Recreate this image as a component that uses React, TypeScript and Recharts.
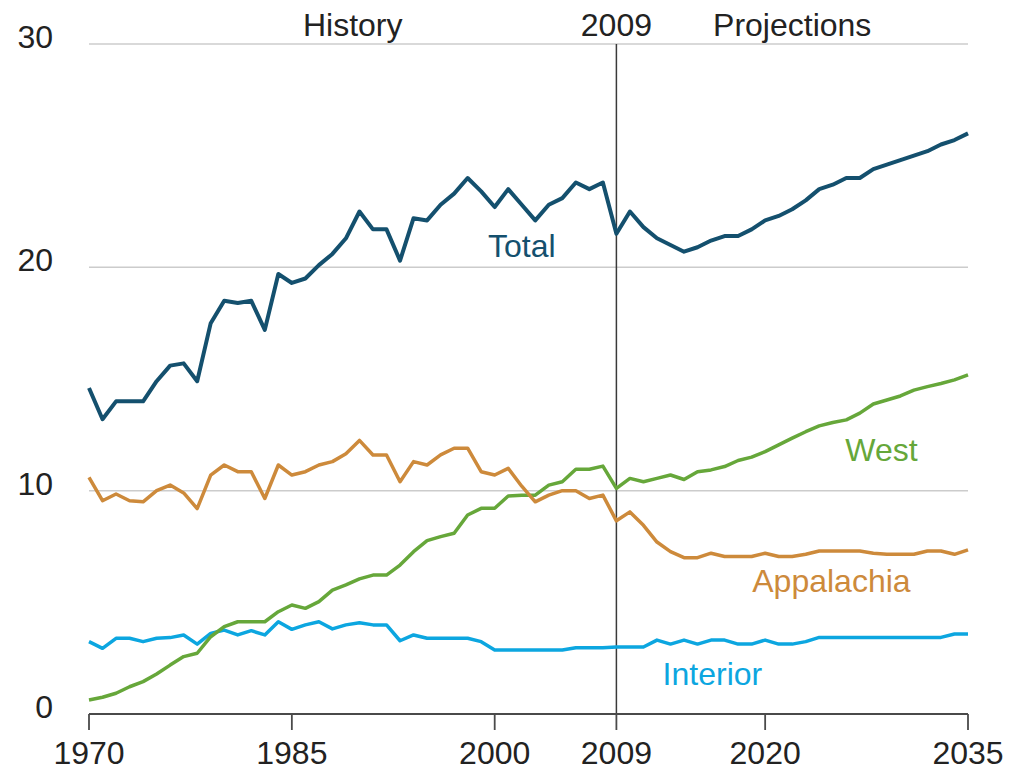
import React from 'react';
import {
  LineChart,
  Line,
  XAxis,
  YAxis,
  CartesianGrid,
  ReferenceLine,
  ReferenceArea,
  ReferenceDot,
} from 'recharts';

const YEARS = [
  1970, 1971, 1972, 1973, 1974, 1975, 1976, 1977, 1978, 1979,
  1980, 1981, 1982, 1983, 1984, 1985, 1986, 1987, 1988, 1989,
  1990, 1991, 1992, 1993, 1994, 1995, 1996, 1997, 1998, 1999,
  2000, 2001, 2002, 2003, 2004, 2005, 2006, 2007, 2008, 2009,
  2010, 2011, 2012, 2013, 2014, 2015, 2016, 2017, 2018, 2019,
  2020, 2021, 2022, 2023, 2024, 2025, 2026, 2027, 2028, 2029,
  2030, 2031, 2032, 2033, 2034, 2035,
];

const TOTAL = [
  14.6, 13.2, 14.0, 14.0, 14.0, 14.9, 15.6, 15.7, 14.9, 17.5,
  18.5, 18.4, 18.5, 17.2, 19.7, 19.3, 19.5, 20.1, 20.6, 21.3,
  22.5, 21.7, 21.7, 20.3, 22.2, 22.1, 22.8, 23.3, 24.0, 23.4,
  22.7, 23.5, 22.8, 22.1, 22.8, 23.1, 23.8, 23.5, 23.8, 21.5,
  22.5, 21.8, 21.3, 21.0, 20.7, 20.9, 21.2, 21.4, 21.4, 21.7,
  22.1, 22.3, 22.6, 23.0, 23.5, 23.7, 24.0, 24.0, 24.4, 24.6,
  24.8, 25.0, 25.2, 25.5, 25.7, 26.0,
];

const WEST = [
  0.63, 0.75, 0.93, 1.22, 1.45, 1.79, 2.19, 2.57, 2.72, 3.46,
  3.91, 4.13, 4.13, 4.13, 4.58, 4.88, 4.73, 5.03, 5.55, 5.78,
  6.05, 6.22, 6.22, 6.67, 7.27, 7.76, 7.94, 8.09, 8.91, 9.21,
  9.21, 9.76, 9.8, 9.8, 10.25, 10.4, 10.96, 10.96, 11.1, 10.1,
  10.55, 10.4, 10.55, 10.7, 10.5, 10.85, 10.93, 11.08, 11.35, 11.5,
  11.75, 12.05, 12.35, 12.64, 12.9, 13.05, 13.17, 13.47, 13.88, 14.06,
  14.24, 14.5, 14.66, 14.8, 14.96, 15.18,
];

const APPALACHIA = [
  10.6, 9.55, 9.85, 9.55, 9.5, 10.0, 10.25, 9.9, 9.2, 10.7,
  11.15, 10.85, 10.85, 9.65, 11.15, 10.7, 10.85, 11.15, 11.3, 11.65,
  12.25, 11.6, 11.6, 10.4, 11.3, 11.15, 11.6, 11.9, 11.9, 10.85,
  10.7, 11.0, 10.2, 9.5, 9.8, 10.0, 10.0, 9.65, 9.8, 8.65,
  9.05, 8.45, 7.7, 7.27, 7.0, 7.0, 7.2, 7.05, 7.05, 7.05,
  7.2, 7.05, 7.05, 7.15, 7.3, 7.3, 7.3, 7.3, 7.2, 7.15,
  7.15, 7.15, 7.3, 7.3, 7.15, 7.35,
];

const INTERIOR = [
  3.24, 2.94, 3.39, 3.39, 3.24, 3.39, 3.42, 3.54, 3.13, 3.61,
  3.76, 3.54, 3.73, 3.54, 4.13, 3.79, 3.99, 4.13, 3.81, 3.99,
  4.09, 3.99, 3.99, 3.28, 3.54, 3.39, 3.39, 3.39, 3.39, 3.24,
  2.87, 2.87, 2.87, 2.87, 2.87, 2.87, 2.97, 2.97, 2.97, 3.0,
  3.0, 3.0, 3.31, 3.13, 3.31, 3.13, 3.31, 3.31, 3.13, 3.13,
  3.31, 3.13, 3.13, 3.24, 3.43, 3.43, 3.43, 3.43, 3.43, 3.43,
  3.43, 3.43, 3.43, 3.43, 3.58, 3.58,
];

const X_TICKS = [1970, 1985, 2000, 2009, 2020, 2035];
const Y_TICKS = [0, 10, 20, 30];
const SPLIT_YEAR = 2009;

const COLORS = {
  total: '#14506e',
  west: '#66a73a',
  appalachia: '#cd8a3b',
  interior: '#0ca6e0',
};

const data = YEARS.map((year, i) => ({
  year,
  total: TOTAL[i],
  west: WEST[i],
  appalachia: APPALACHIA[i],
  interior: INTERIOR[i],
}));

const YTick = ({ x, y, payload }: any) => (
  <text x={x} y={y + 4} textAnchor="end" fontSize={32} fill="#222">
    {payload.value}
  </text>
);

// labels sit a little higher than the reference so they don't get clipped at the page bottom
const XTick = ({ x, y, payload }: any) => (
  <text x={x} y={y + 34} textAnchor="middle" fontSize={32} fill="#222">
    {payload.value}
  </text>
);

const seriesLabel = (text: string, color: string) => ({
  value: text,
  position: 'center' as const,
  fill: color,
  fontSize: 32,
});

export default function App() {
  return (
    <div style={{ fontFamily: '"Liberation Sans", Arial, sans-serif', background: '#fff' }}>
      <LineChart
        width={998}
        height={764}
        data={data}
        margin={{ top: 36, right: 38, bottom: 0, left: 0 }}
      >
        <CartesianGrid vertical={false} stroke="#cccccc" strokeWidth={1.5} />
        <XAxis
          dataKey="year"
          type="number"
          domain={[1970, 2035]}
          ticks={X_TICKS}
          interval={0}
          height={58}
          tickSize={16}
          tickMargin={0}
          stroke="#4a4a4a"
          strokeWidth={1.8}
          tick={<XTick />}
        />
        <YAxis
          domain={[0, 30]}
          ticks={Y_TICKS}
          width={81}
          axisLine={false}
          tickLine={false}
          tickSize={0}
          tickMargin={36}
          tick={<YTick />}
        />
        <ReferenceArea
          x1={1970}
          x2={SPLIT_YEAR}
          fill="none"
          stroke="none"
          label={{ value: 'History', position: 'top', offset: 8, fontSize: 32, fill: '#222' }}
        />
        <ReferenceArea
          x1={SPLIT_YEAR}
          x2={2035}
          fill="none"
          stroke="none"
          label={{ value: 'Projections', position: 'top', offset: 8, fontSize: 32, fill: '#222' }}
        />
        <ReferenceLine
          x={SPLIT_YEAR}
          stroke="#3a3a3a"
          strokeWidth={1.5}
          label={{ value: '2009', position: 'top', offset: 8, fontSize: 32, fill: '#222' }}
        />
        <Line
          dataKey="interior"
          stroke={COLORS.interior}
          strokeWidth={3.5}
          strokeLinejoin="round"
          dot={false}
          activeDot={false}
          isAnimationActive={false}
        />
        <Line
          dataKey="west"
          stroke={COLORS.west}
          strokeWidth={3.5}
          strokeLinejoin="round"
          dot={false}
          activeDot={false}
          isAnimationActive={false}
        />
        <Line
          dataKey="appalachia"
          stroke={COLORS.appalachia}
          strokeWidth={3.5}
          strokeLinejoin="round"
          dot={false}
          activeDot={false}
          isAnimationActive={false}
        />
        <Line
          dataKey="total"
          stroke={COLORS.total}
          strokeWidth={4}
          strokeLinejoin="round"
          dot={false}
          activeDot={false}
          isAnimationActive={false}
        />
        <ReferenceDot x={2002} y={20.95} r={0} fill="none" stroke="none" label={seriesLabel('Total', COLORS.total)} />
        <ReferenceDot x={2028.6} y={11.85} r={0} fill="none" stroke="none" label={seriesLabel('West', COLORS.west)} />
        <ReferenceDot x={2024.9} y={5.95} r={0} fill="none" stroke="none" label={seriesLabel('Appalachia', COLORS.appalachia)} />
        <ReferenceDot x={2016.1} y={1.8} r={0} fill="none" stroke="none" label={seriesLabel('Interior', COLORS.interior)} />
      </LineChart>
    </div>
  );
}
